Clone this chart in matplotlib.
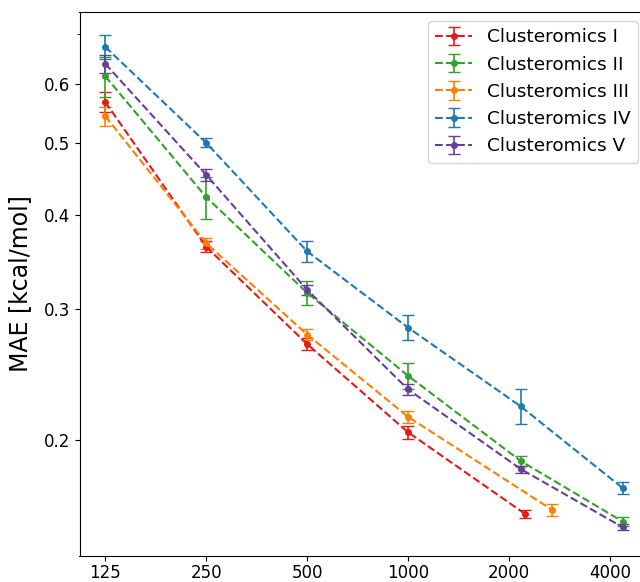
import matplotlib
matplotlib.use("Agg")
import matplotlib.pyplot as plt
from matplotlib.ticker import FixedLocator, NullFormatter, NullLocator

# ---------- DATA ----------
labels = ["Clusteromics I", "Clusteromics II", "Clusteromics III",
          "Clusteromics IV", "Clusteromics V"]
colors = ["#e31a1c", "#33a02c", "#ff7f00", "#1f78b4", "#6a3d9a"]

sizes_I = [125, 250, 500, 1000, 2230]
sizes_II = [125, 250, 500, 1000, 2170, 4370]
sizes_III = [125, 250, 500, 1000, 2690]
sizes_IV = [125, 250, 500, 1000, 2170, 4370]
sizes_V = [125, 250, 500, 1000, 2170, 4370]

mae_I = [0.567, 0.363, 0.269, 0.205, 0.1595]
mae_II = [0.614, 0.423, 0.315, 0.244, 0.1876, 0.1557]
mae_III = [0.543, 0.367, 0.277, 0.215, 0.1614]
mae_IV = [0.672, 0.500, 0.358, 0.283, 0.222, 0.1726]
mae_V = [0.638, 0.453, 0.318, 0.234, 0.183, 0.153]

err_I = [0.017, 0.006, 0.005, 0.004, 0.002]
err_II = [0.038, 0.027, 0.012, 0.010, 0.003, 0.002]
err_III = [0.016, 0.006, 0.005, 0.004, 0.003]
err_IV = [0.025, 0.007, 0.012, 0.011, 0.012, 0.003]
err_V = [0.017, 0.009, 0.005, 0.004, 0.002, 0.0015]

xticks = [125, 250, 500, 1000, 2000, 4000]
yticks = [0.2, 0.3, 0.4, 0.5, 0.6]

series = [
    (sizes_I, mae_I, err_I),
    (sizes_II, mae_II, err_II),
    (sizes_III, mae_III, err_III),
    (sizes_IV, mae_IV, err_IV),
    (sizes_V, mae_V, err_V),
]

# ---------- PLOT ----------
fig = plt.figure(figsize=(6.4, 5.82), dpi=100)
ax = fig.add_axes([79.5 / 640, 1 - 556 / 582, (648.5 - 79.5) / 640, (556 - 11.7) / 582])

for (x, y, e), lab, c in zip(series, labels, colors):
    ax.errorbar(x, y, yerr=e, fmt="o--", color=c, label=lab,
                markersize=4, linewidth=1.5, elinewidth=1.2, capsize=4)

ax.set_xscale("log")
ax.set_yscale("log")
ax.set_xlim(104.7, 5219)
ax.set_ylim(0.140, 0.749)

ax.xaxis.set_major_locator(FixedLocator(xticks))
ax.set_xticklabels([str(t) for t in xticks])
ax.xaxis.set_minor_locator(NullLocator())

ax.yaxis.set_major_locator(FixedLocator(yticks))
ax.set_yticklabels([str(t) for t in yticks])
ax.yaxis.set_minor_locator(FixedLocator([0.7]))
ax.yaxis.set_minor_formatter(NullFormatter())

ax.tick_params(axis="both", which="major", labelsize=12)
ax.tick_params(axis="x", which="major", pad=2.5)
ax.set_ylabel("MAE [kcal/mol]", fontsize=17, labelpad=8)

ax.legend(loc="upper right", fontsize=13.3, borderaxespad=0,
          bbox_to_anchor=(638 / 640, 1 - 21 / 582),
          bbox_transform=fig.transFigure)

fig.savefig("out.png", dpi=100)
